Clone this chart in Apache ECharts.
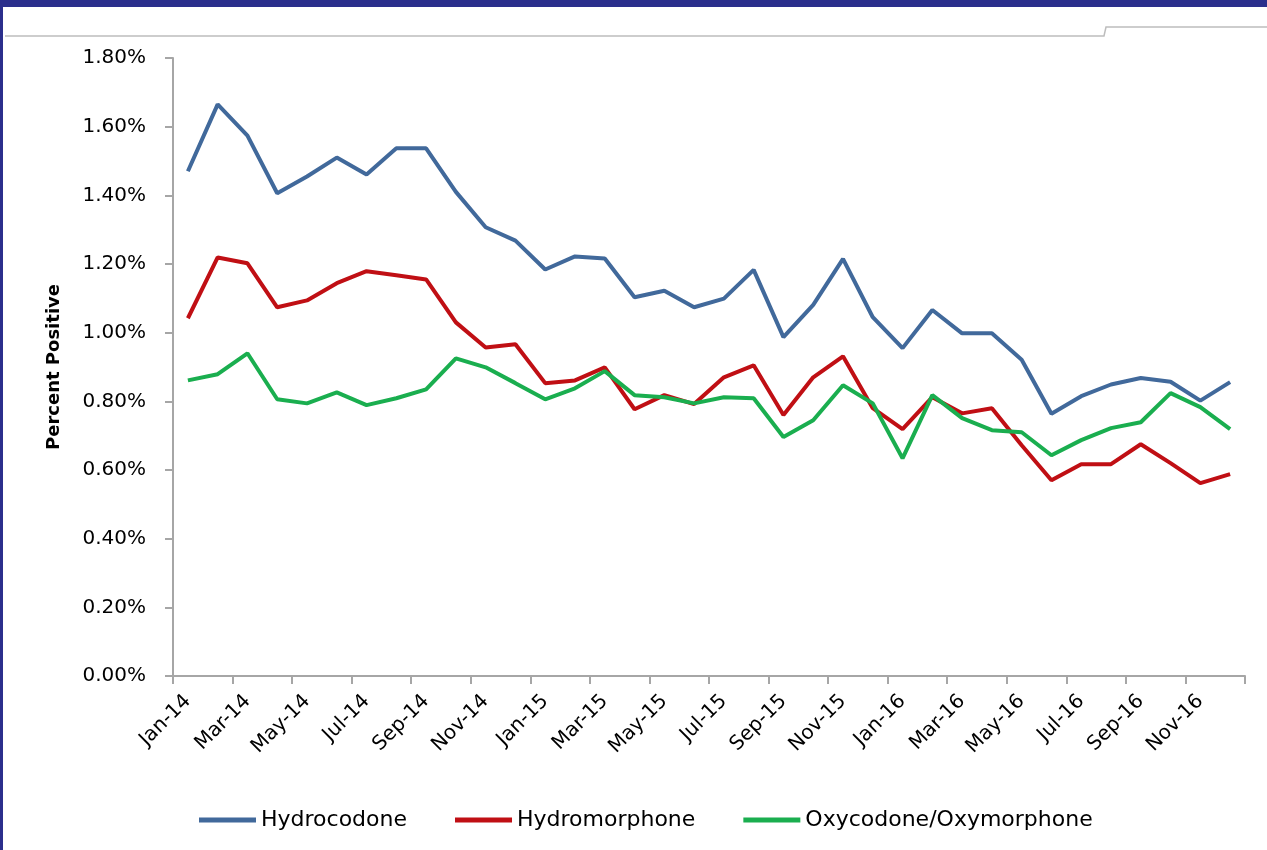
<!DOCTYPE html>
<html>
<head>
<meta charset="utf-8">
<script src="https://cdn.jsdelivr.net/npm/echarts@6/dist/echarts.min.js"></script>
<style>
html,body{margin:0;padding:0;background:#fff;}
#chart{width:1267px;height:850px;}
</style>
</head>
<body>
<div id="chart"></div>
<script>
var months = ['Jan-14','Feb-14','Mar-14','Apr-14','May-14','Jun-14','Jul-14','Aug-14','Sep-14','Oct-14','Nov-14','Dec-14',
              'Jan-15','Feb-15','Mar-15','Apr-15','May-15','Jun-15','Jul-15','Aug-15','Sep-15','Oct-15','Nov-15','Dec-15',
              'Jan-16','Feb-16','Mar-16','Apr-16','May-16','Jun-16','Jul-16','Aug-16','Sep-16','Oct-16','Nov-16','Dec-16'];
var hydrocodone = [1.47,1.665,1.574,1.406,1.455,1.51,1.461,1.537,1.537,1.41,1.307,1.268,
                   1.184,1.222,1.216,1.103,1.122,1.074,1.099,1.183,0.987,1.081,1.215,1.045,
                   0.955,1.066,0.998,0.998,0.921,0.764,0.815,0.849,0.868,0.857,0.802,0.856];
var hydromorphone = [1.042,1.219,1.202,1.074,1.094,1.144,1.179,1.167,1.155,1.03,0.957,0.966,
                     0.853,0.861,0.899,0.777,0.818,0.792,0.870,0.905,0.760,0.870,0.931,0.780,
                     0.719,0.812,0.765,0.780,0.672,0.570,0.617,0.617,0.675,0.620,0.562,0.588];
var oxycodone = [0.861,0.879,0.940,0.806,0.794,0.826,0.789,0.809,0.835,0.925,0.899,0.853,
                 0.806,0.838,0.888,0.818,0.812,0.794,0.812,0.809,0.696,0.745,0.847,0.794,
                 0.634,0.818,0.751,0.716,0.710,0.643,0.687,0.722,0.739,0.824,0.783,0.719];
var seriesNames = ['Hydrocodone','Hydromorphone','Oxycodone/Oxymorphone'];
var yMin = 0, yMax = 1.8, yStep = 0.2;

var FONT = 'DejaVu Sans';
var chart = echarts.init(document.getElementById('chart'));
function mk(name, data, color){
  return {name:name, type:'line', data:data, symbol:'none', smooth:false,
    lineStyle:{width:4, color:color}, itemStyle:{color:color}};
}
chart.setOption({
  backgroundColor:'#ffffff',
  animation:false,
  color:['#41699B','#C00F14','#1AAE4F'],
  grid:{left:173, right:22, top:58, bottom:174},
  legend:{
    left:194, top:804, icon:'rect', itemWidth:57, itemHeight:5, itemGap:48,
    textStyle:{fontFamily:FONT, fontSize:22, color:'#000'},
    data:seriesNames
  },
  xAxis:{
    type:'category', data:months, boundaryGap:true,
    axisLine:{lineStyle:{color:'#A6A6A6', width:2}},
    axisTick:{show:true, interval:1, length:8, lineStyle:{color:'#A6A6A6', width:2}},
    axisLabel:{interval:1, rotate:45, margin:22, fontFamily:FONT, fontSize:20, color:'#000'},
    splitLine:{show:false}
  },
  yAxis:{
    type:'value', min:yMin, max:yMax, interval:yStep,
    name:'Percent Positive', nameLocation:'middle', nameGap:110,
    nameTextStyle:{fontFamily:FONT, fontSize:18, fontWeight:'bold', color:'#000'},
    axisLine:{show:true, lineStyle:{color:'#A6A6A6', width:2}},
    axisTick:{show:true, length:8, lineStyle:{color:'#A6A6A6', width:2}},
    axisLabel:{margin:27, fontFamily:FONT, fontSize:20, color:'#000',
      formatter:function(v){return v.toFixed(2)+'%';}},
    splitLine:{show:false}
  },
  graphic:[
    {type:'rect', left:0, top:0, shape:{width:1267, height:7}, style:{fill:'#2B2F8C'}, silent:true},
    {type:'rect', left:0, top:0, shape:{width:3, height:850}, style:{fill:'#2B2F8C'}, silent:true},
    {type:'polyline', shape:{points:[[5,36],[1104,36],[1106,27],[1267,27]]}, style:{stroke:'#BDBDBD', lineWidth:1.5, fill:null}, silent:true}
  ],
  series:[
    mk(seriesNames[0], hydrocodone, '#41699B'),
    mk(seriesNames[1], hydromorphone, '#C00F14'),
    mk(seriesNames[2], oxycodone, '#1AAE4F')
  ]
});
</script>
</body>
</html>
